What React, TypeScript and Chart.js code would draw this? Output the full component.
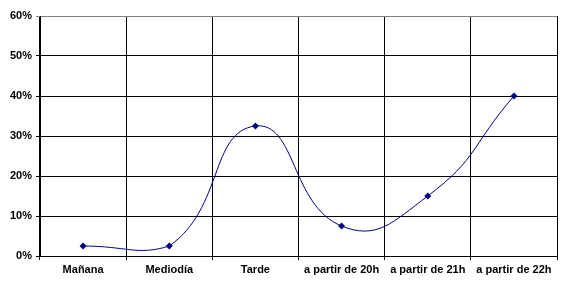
import React, { useEffect, useRef } from "react";
import { Chart, registerables } from "chart.js";

Chart.register(...registerables);

const categories = ["Mañana", "Mediodía", "Tarde", "a partir de 20h", "a partir de 21h", "a partir de 22h"];
const values = [2.5, 2.5, 32.5, 7.5, 15, 40];
const yMin = 0;
const yMax = 60;
const yStep = 10;

export default function App() {
  const ref = useRef<HTMLCanvasElement>(null);
  useEffect(() => {
    document.body.style.margin = "0";
    const ctx = ref.current!;
    const chart = new Chart(ctx, {
      type: "line",
      data: {
        labels: categories,
        datasets: [
          {
            data: values,
            borderColor: "#000080",
            backgroundColor: "#000080",
            borderWidth: 1,
            tension: 0.5,
            pointStyle: "rectRot",
            pointRadius: 3.5,
            pointBorderWidth: 0,
            pointBackgroundColor: "#000080",
            clip: false as any,
          },
        ],
      },
      options: {
        animation: false,
        responsive: false,
        devicePixelRatio: 1,
        layout: { padding: { top: 16, right: 5, left: 0, bottom: 0 } },
        plugins: { legend: { display: false }, tooltip: { enabled: false } },
        scales: {
          x: {
            type: "category",
            offset: true,
            grid: {
              offset: true,
              color: (c: any) => (c.index === categories.length ? "#808080" : "#000000"),
              lineWidth: 1,
              tickLength: 4,
              drawTicks: true,
            },
            border: { color: "#000000", width: 1 },
            ticks: {
              color: "#000000",
              font: { family: "Liberation Sans, Arial", size: 11, weight: "bold" },
              padding: 3,
              maxRotation: 0,
              autoSkip: false,
            },
            afterFit: (s: any) => {
              s.height = 32;
            },
          },
          y: {
            min: yMin,
            max: yMax,
            grid: {
              color: (c: any) => (c.tick && c.tick.value === yMax ? "#808080" : "#000000"),
              lineWidth: 1,
              tickLength: 4,
            },
            border: { color: "#000000", width: 1 },
            ticks: {
              stepSize: yStep,
              color: "#000000",
              font: { family: "Liberation Sans, Arial", size: 11, weight: "bold" },
              padding: 4,
              callback: (v: any) => v + "%",
            },
            afterFit: (s: any) => {
              s.width = 40;
            },
          },
        },
      },
    });
    return () => chart.destroy();
  }, []);
  return (
    <div style={{ width: 562, height: 288, background: "#fff" }}>
      <canvas ref={ref} width={562} height={288} style={{ display: "block" }} />
    </div>
  );
}
